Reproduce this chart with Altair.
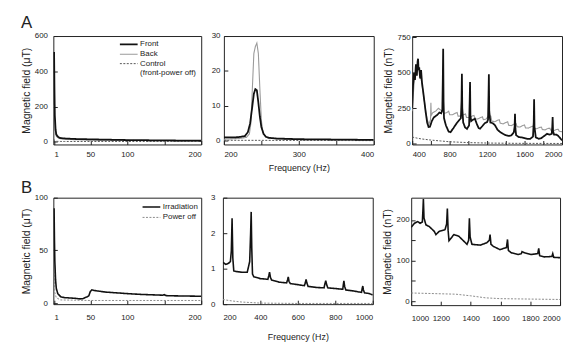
import json
import altair as alt
import pandas as pd

# ---------------- Panel A1 : 1-200 Hz (uT) ----------------
a1_f = [1, 1.5, 2, 3, 4, 6, 8, 10, 15, 20, 30, 50, 75, 100, 125, 150, 175, 200]
a1_front = [510, 300, 150, 70, 42, 30, 24, 21, 19, 18, 16, 14, 12, 10, 9, 8, 7, 6]
a1_back = [210, 130, 80, 45, 32, 24, 20, 17, 15, 14, 12, 10, 9, 8, 7, 6, 5, 4]
a1_ctrl = [14, 8, 5, 3.5, 3, 2.5, 2.5, 2, 2, 2, 2, 2, 2, 2, 2, 2, 2, 2]

# ---------------- Panel A2 : 200-400 Hz (uT) ----------------
a2_front_f = [200, 210, 220, 228, 232, 235, 238, 240, 242, 244, 246, 248, 250, 253, 256, 260, 270, 300, 350, 400]
a2_front = [1.0, 1.0, 1.1, 1.4, 2.5, 5, 10, 13.5, 14.8, 14.5, 11, 7, 4, 2, 1.2, 0.9, 0.7, 0.5, 0.4, 0.3]
a2_back_f = [200, 220, 230, 234, 236, 238, 240, 242, 244, 246, 248, 250, 252, 256, 260, 280, 300, 350, 400]
a2_back = [0.5, 0.7, 1.0, 2, 5, 15, 25, 27, 28, 25, 15, 6, 2.5, 1.2, 0.8, 0.5, 0.4, 0.3, 0.3]
a2_ctrl_f = [200, 300, 400]
a2_ctrl = [0.2, 0.15, 0.1]

# ---------------- Panel A3 : 400-2000 Hz (nT) ----------------
a3_front_f = [400, 410, 420, 430, 440, 450, 458, 463, 468, 475, 485, 495, 505, 515, 530, 545, 560, 575, 590,
              610, 630, 650, 670, 690, 710, 722, 727, 731, 735, 740, 760, 790, 810, 840, 870, 900, 920, 927,
              931, 935, 945, 965, 985, 1008, 1014, 1018, 1022, 1030, 1050, 1070, 1090, 1110, 1125, 1150, 1175,
              1200, 1210, 1215, 1219, 1223, 1235, 1260, 1285, 1310, 1340, 1370, 1400, 1430, 1460, 1485, 1494,
              1498, 1502, 1510, 1540, 1570, 1600, 1630, 1660, 1690, 1698, 1702, 1706, 1720, 1750, 1780, 1810,
              1840, 1870, 1890, 1896, 1900, 1904, 1915, 1940, 1960, 1980, 2000]
a3_front = [250, 420, 500, 450, 560, 480, 580, 600, 520, 540, 460, 520, 430, 380, 300, 220, 150, 118, 120,
            160, 185, 195, 205, 220, 215, 240, 450, 670, 300, 180, 130, 85, 82, 110, 140, 165, 180, 300,
            494, 250, 150, 115, 105, 130, 300, 435, 200, 160, 170, 176, 140, 110, 106, 125, 145,
            153, 170, 330, 490, 230, 150, 145, 130, 100, 82, 70, 60, 55, 60, 80, 120,
            212, 110, 60, 47, 45, 40, 35, 35, 50, 150, 313, 120, 45, 35, 40, 55,
            70, 65, 70, 120, 188, 90, 65, 64, 55, 40, 24]
a3_back_f = [400, 420, 440, 460, 480, 500, 520, 540, 560, 580, 596, 600, 604, 620, 650, 680, 700, 720, 740,
             770, 790, 800, 830, 860, 880, 890, 920, 950, 970, 980, 1010, 1040, 1060, 1070, 1100, 1130, 1150,
             1160, 1190, 1220, 1240, 1250, 1280, 1310, 1330, 1340, 1370, 1400, 1420, 1430, 1460, 1490, 1510,
             1520, 1550, 1580, 1600, 1610, 1640, 1670, 1690, 1700, 1730, 1760, 1780, 1790, 1820, 1850, 1870,
             1880, 1910, 1940, 1960, 1970, 2000]
a3_back = [230, 420, 520, 560, 500, 440, 350, 250, 170, 140, 170, 290, 200, 220, 230, 250, 240, 230, 215,
           220, 230, 205, 205, 215, 220, 195, 195, 205, 210, 185, 185, 195, 200, 175, 175, 185, 190,
           170, 175, 200, 195, 160, 155, 165, 170, 145, 140, 150, 155, 130, 128, 140, 142,
           120, 118, 128, 132, 112, 110, 120, 125, 108, 106, 115, 118, 100, 98, 108, 110,
           95, 92, 100, 102, 88, 85]
a3_ctrl_f = [400, 450, 500, 600, 700, 800, 1000, 1200, 1500, 2000]
a3_ctrl = [47, 40, 34, 26, 20, 14, 8, 5, 3, 2]

# ---------------- Panel B1 : 1-200 Hz (uT) ----------------
b1_irr_f = [1, 1.5, 2, 3, 4, 6, 10, 15, 20, 30, 36, 40, 44, 46, 48, 50, 52, 55, 60, 70, 80, 100, 120,
            148, 150, 152, 155, 170, 200]
b1_irr = [90, 60, 40, 22, 14, 9, 6, 5.2, 5, 4.5, 4, 4.2, 5.5, 6, 7, 11, 12.5, 12, 11.5, 10.5, 10, 9, 8.2,
          7.5, 8, 7.2, 7, 6.8, 6.5]
b1_off_f = [1, 2, 4, 10, 50, 100, 200]
b1_off = [30, 10, 5, 3, 2.5, 2.5, 2.5]

# ---------------- Panel B2 : 200-1000 Hz (uT) ----------------
b2_irr_f = [200, 215, 230, 240, 245, 249, 253, 258, 270, 300, 330, 343, 348, 351, 354, 358, 365, 400, 440,
            445, 449, 454, 460, 500, 540, 545, 549, 553, 560, 600, 635, 640, 644, 648, 655, 700, 740, 745,
            749, 754, 760, 800, 840, 843, 846, 850, 856, 900, 940, 944, 947, 950, 956, 980, 1000]
b2_irr = [1.18, 1.12, 1.15, 1.2, 1.5, 2.42, 1.3, 0.94, 0.92, 0.9, 0.9, 1.2, 2.0, 2.6, 1.6, 0.85, 0.77, 0.72,
          0.7, 0.8, 0.9, 0.75, 0.68, 0.62, 0.6, 0.68, 0.77, 0.64, 0.58, 0.55, 0.52, 0.6, 0.7, 0.6, 0.5, 0.47,
          0.46, 0.58, 0.66, 0.55, 0.46, 0.44, 0.42, 0.55, 0.66, 0.5, 0.4, 0.37, 0.33, 0.45, 0.51, 0.4, 0.32,
          0.3, 0.26]
b2_off_f = [200, 250, 300, 400, 600, 1000]
b2_off = [0.13, 0.09, 0.06, 0.03, 0.02, 0.02]

# ---------------- Panel B3 : 1000-2000 Hz (nT) ----------------
b3_irr_f = [1000, 1022, 1044, 1060, 1075, 1079, 1082, 1086, 1099, 1121, 1155, 1166, 1188, 1227, 1238, 1243,
            1248, 1254, 1287, 1320, 1353, 1375, 1386, 1391, 1396, 1408, 1464, 1508, 1525, 1530, 1536, 1552,
            1596, 1640, 1647, 1653, 1673, 1717, 1740, 1745, 1762, 1806, 1850, 1857, 1863, 1894, 1945, 1951,
            1957, 2000]
b3_irr = [182, 192, 196, 192, 195, 225, 252, 205, 188, 184, 172, 164, 172, 176, 190, 228, 175, 149, 164, 160,
          148, 140, 150, 204, 158, 140, 138, 144, 150, 164, 140, 135, 127, 132, 152, 125, 119, 115, 117, 122,
          119, 115, 117, 130, 112, 109, 110, 117, 108, 107]
b3_off_f = [1000, 1200, 1300, 1400, 1500, 1600, 2000]
b3_off = [20, 18, 17, 13, 8, 6, 4]

A_SERIES = ["Front", "Back", "Control"]
B_SERIES = ["Irradiation", "Power off"]
TXT = "#222222"


def make_df(parts):
    rows = []
    for name, fs, vs in parts:
        for f, v in zip(fs, vs):
            rows.append({"f": f, "v": v, "s": name})
    return pd.DataFrame(rows)


def label_expr(vals):
    return f"indexof({json.dumps(vals)}, datum.value) >= 0 ? datum.label : ''"


def panel(df, series, colors, dashes, widths, xdom, xticks, xlabels, ydom, yticks, ylabels,
          w, h, ytitle=None, xtitle=None, legend=None, ylabpad=5, xlabpad=6, ytp=4, xtp=3):
    xaxis = alt.Axis(values=xticks, labelExpr=label_expr(xlabels), title=xtitle, grid=False, format="d",
                     domain=False, tickSize=4, offset=-4, labelPadding=xlabpad, labelFontSize=8,
                     labelFlush=True, titleFontSize=9, titleFontWeight="normal", titlePadding=xtp,
                     labelColor=TXT, tickColor=TXT, titleColor=TXT)
    yaxis = alt.Axis(values=yticks, labelExpr=label_expr(ylabels), title=ytitle, grid=False,
                     domain=False, tickSize=4, offset=-4, labelPadding=ylabpad, labelFontSize=8,
                     titleFontSize=10.5, titleFontWeight="normal", titlePadding=ytp,
                     labelColor=TXT, tickColor=TXT, titleColor=TXT)
    lg = {"legend": legend} if legend is not None else {"legend": None}
    enc_color = alt.Color("s:N", scale=alt.Scale(domain=series, range=colors), **lg)
    enc_dash = alt.StrokeDash("s:N", scale=alt.Scale(domain=series, range=dashes), **lg)
    enc_w = alt.StrokeWidth("s:N", scale=alt.Scale(type="ordinal", domain=series, range=widths), **lg)
    return alt.Chart(df).mark_line(clip=True).encode(
        x=alt.X("f:Q", scale=alt.Scale(domain=xdom, nice=False, zero=False), axis=xaxis),
        y=alt.Y("v:Q", scale=alt.Scale(domain=ydom, nice=False, zero=False), axis=yaxis),
        color=enc_color,
        strokeDash=enc_dash,
        strokeWidth=enc_w,
    ).properties(width=w, height=h)


A_COL = ["#111111", "#9a9a9a", "#555555"]
A_DASH = [[1, 0], [1, 0], [2, 1.5]]
A_W = [1.8, 1.1, 1.0]
B_COL = ["#111111", "#8a8a8a"]
B_DASH = [[1, 0], [2, 1.5]]
B_W = [1.6, 1.0]

LINE_SYM = "M-2,0H2"
legA = alt.Legend(orient="none", legendX=71, legendY=3, title=None, symbolType=LINE_SYM, symbolSize=81,
                  labelFontSize=8, labelColor=TXT, padding=0, rowPadding=0, labelOffset=6,
                  labelExpr="datum.label == 'Control' ? ['Control', '(front-power off)'] : datum.label")
legB = alt.Legend(orient="none", legendX=94, legendY=4, title=None, symbolType=LINE_SYM, symbolSize=81,
                  labelFontSize=8, labelColor=TXT, padding=0, rowPadding=1, labelOffset=6)

dfA1 = make_df([("Control", a1_f, a1_ctrl), ("Back", a1_f, a1_back), ("Front", a1_f, a1_front)])
dfA2 = make_df([("Control", a2_ctrl_f, a2_ctrl), ("Back", a2_back_f, a2_back), ("Front", a2_front_f, a2_front)])
dfA3 = make_df([("Control", a3_ctrl_f, a3_ctrl), ("Back", a3_back_f, a3_back), ("Front", a3_front_f, a3_front)])
dfB1 = make_df([("Power off", b1_off_f, b1_off), ("Irradiation", b1_irr_f, b1_irr)])
dfB2 = make_df([("Power off", b2_off_f, b2_off), ("Irradiation", b2_irr_f, b2_irr)])
dfB3 = make_df([("Power off", b3_off_f, b3_off), ("Irradiation", b3_irr_f, b3_irr)])

pA1 = panel(dfA1, A_SERIES, A_COL, A_DASH, A_W, [0, 200], [1, 50, 100, 150, 200], [1, 50, 100, 200],
            [-15, 600], [0, 200, 400, 600], [0, 200, 400, 600], 150, 110,
            ytitle="Magnetic field (\u03bcT)", legend=legA, ylabpad=6, ytp=3)
pA2 = panel(dfA2, A_SERIES, A_COL, A_DASH, A_W, [200, 400], [200, 250, 300, 350, 400], [200, 300, 400],
            [-1, 30], [0, 10, 20, 30], [0, 10, 20, 30], 152, 110,
            xtitle="Frequency (Hz)", ylabpad=4, xtp=5)
pA3 = panel(dfA3, A_SERIES, A_COL, A_DASH, A_W, [400, 2000], list(range(400, 2001, 200)),
            [400, 800, 1200, 1600, 2000], [-5, 760], [0, 250, 500, 750], [0, 250, 500, 750], 152, 110,
            ytitle="Magnetic field (nT)", ylabpad=2, ytp=4)

pB1 = panel(dfB1, B_SERIES, B_COL, B_DASH, B_W, [0, 200], [1, 50, 100, 150, 200], [1, 50, 100, 200],
            [-1, 100], [0, 50, 100], [0, 50, 100], 150, 108,
            ytitle="Magnetic field (\u03bcT)", legend=legB, ylabpad=6, xlabpad=10, ytp=3)
pB2 = panel(dfB2, B_SERIES, B_COL, B_DASH, B_W, [200, 1000], [200, 400, 600, 800, 1000],
            [200, 400, 600, 800, 1000], [0, 3], [0, 1, 2, 3], [0, 1, 2, 3], 152, 108,
            xtitle="Frequency (Hz)", ylabpad=8, xlabpad=10, xtp=11)
pB3 = panel(dfB3, B_SERIES, B_COL, B_DASH, B_W, [1000, 2000], list(range(1000, 2001, 200)),
            list(range(1000, 2001, 200)), [-10, 255], [0, 50, 100, 150, 200], [0, 100, 200], 151, 109,
            ytitle="Magnetic field (nT)", ylabpad=2, xlabpad=10, ytp=4)

rowA = alt.hconcat(pA1, pA2, pA3, spacing=8,
                   title=alt.TitleParams("A", anchor="start", fontSize=17, fontWeight="normal",
                                         color=TXT, offset=0))
rowB = alt.hconcat(pB1, pB2, pB3, spacing=8,
                   title=alt.TitleParams("B", anchor="start", fontSize=17, fontWeight="normal",
                                         color=TXT, offset=-4))

chart = alt.vconcat(rowA, rowB, spacing=6).resolve_scale(
    color="independent", strokeDash="independent", strokeWidth="independent"
).properties(
    padding={"left": 13, "top": 3, "right": 0, "bottom": 0}
).configure(font="Liberation Sans").configure_view(stroke="#222222", strokeWidth=1)

chart.save("out.html", embed_options={"renderer": "svg", "actions": False})
